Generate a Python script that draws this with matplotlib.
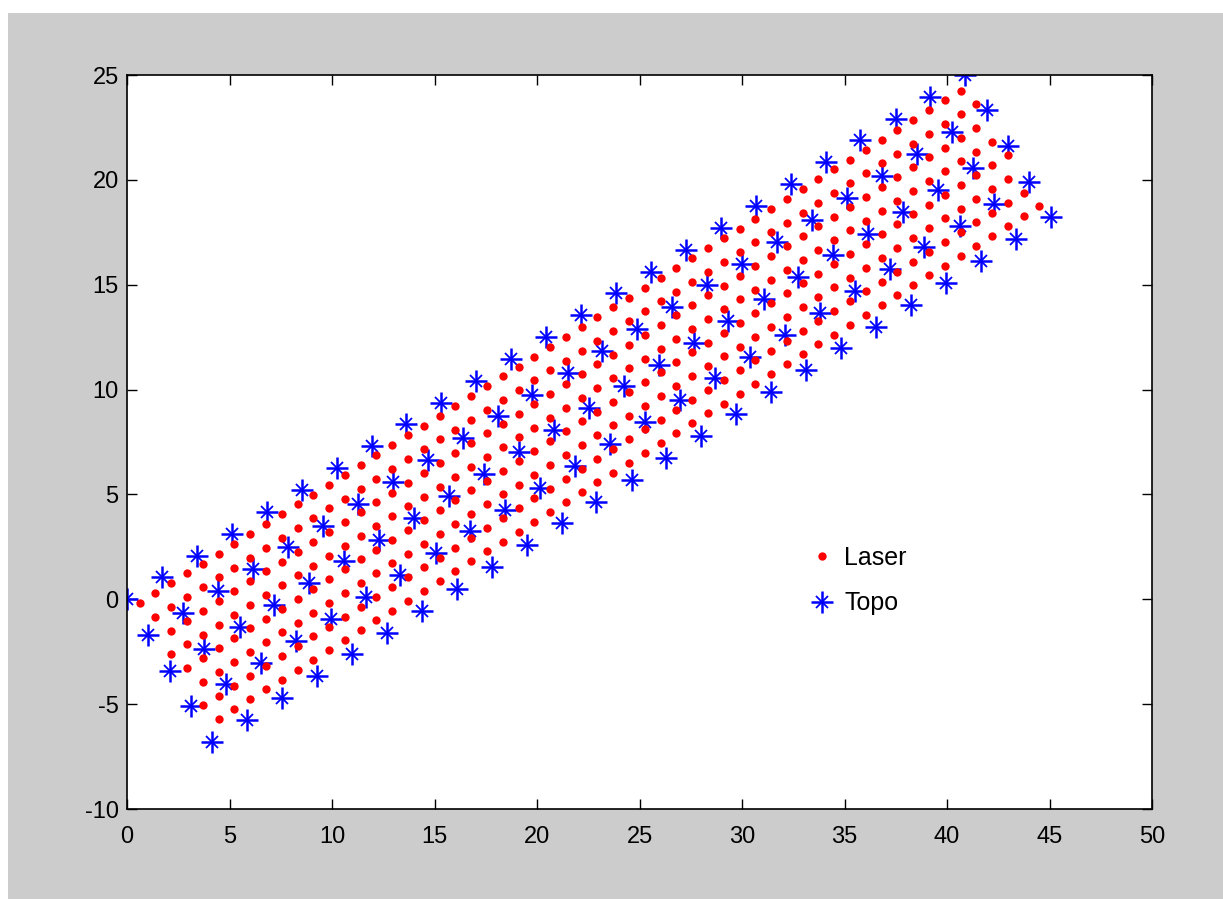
import matplotlib
matplotlib.use("Agg")
import matplotlib.pyplot as plt
from matplotlib.legend_handler import HandlerTuple
from matplotlib.patches import Rectangle

plt.rcParams['font.family'] = ['Liberation Sans', 'DejaVu Sans']
plt.rcParams['axes.unicode_minus'] = False

# ---------------- data ----------------
series_names = ["Laser", "Topo"]

# Topo: 5 rows of 25 points
topo_x_rows = [
    [0.00, 1.70, 3.41, 5.11, 6.82, 8.52, 10.22, 11.93, 13.63, 15.34, 17.04, 18.74, 20.45, 22.15, 23.86, 25.56, 27.26, 28.97, 30.67, 32.38, 34.08, 35.78, 37.49, 39.19, 40.90],
    [1.04, 2.74, 4.45, 6.15, 7.86, 9.56, 11.26, 12.97, 14.67, 16.38, 18.08, 19.78, 21.49, 23.19, 24.90, 26.60, 28.30, 30.01, 31.71, 33.42, 35.12, 36.82, 38.53, 40.23, 41.94],
    [2.08, 3.78, 5.49, 7.19, 8.90, 10.60, 12.30, 14.01, 15.71, 17.42, 19.12, 20.82, 22.53, 24.23, 25.94, 27.64, 29.34, 31.05, 32.75, 34.46, 36.16, 37.86, 39.57, 41.27, 42.98],
    [3.12, 4.82, 6.53, 8.23, 9.94, 11.64, 13.34, 15.05, 16.75, 18.46, 20.16, 21.86, 23.57, 25.27, 26.98, 28.68, 30.38, 32.09, 33.79, 35.50, 37.20, 38.90, 40.61, 42.31, 44.02],
    [4.16, 5.86, 7.57, 9.27, 10.98, 12.68, 14.38, 16.09, 17.79, 19.50, 21.20, 22.90, 24.61, 26.31, 28.02, 29.72, 31.42, 33.13, 34.83, 36.54, 38.24, 39.94, 41.65, 43.35, 45.06],
]
topo_y_rows = [
    [0.00, 1.04, 2.08, 3.13, 4.17, 5.21, 6.25, 7.29, 8.34, 9.38, 10.42, 11.46, 12.50, 13.55, 14.59, 15.63, 16.67, 17.71, 18.76, 19.80, 20.84, 21.88, 22.92, 23.97, 25.01],
    [-1.70, -0.66, 0.38, 1.43, 2.47, 3.51, 4.55, 5.59, 6.64, 7.68, 8.72, 9.76, 10.80, 11.85, 12.89, 13.93, 14.97, 16.01, 17.06, 18.10, 19.14, 20.18, 21.22, 22.27, 23.31],
    [-3.40, -2.36, -1.32, -0.27, 0.77, 1.81, 2.85, 3.89, 4.94, 5.98, 7.02, 8.06, 9.10, 10.15, 11.19, 12.23, 13.27, 14.31, 15.36, 16.40, 17.44, 18.48, 19.52, 20.57, 21.61],
    [-5.10, -4.06, -3.02, -1.97, -0.93, 0.11, 1.15, 2.19, 3.24, 4.28, 5.32, 6.36, 7.40, 8.45, 9.49, 10.53, 11.57, 12.61, 13.66, 14.70, 15.74, 16.78, 17.82, 18.87, 19.91],
    [-6.80, -5.76, -4.72, -3.67, -2.63, -1.59, -0.55, 0.49, 1.54, 2.58, 3.62, 4.66, 5.70, 6.75, 7.79, 8.83, 9.87, 10.91, 11.96, 13.00, 14.04, 15.08, 16.12, 17.17, 18.21],
]

# Laser: 8 rows of points
laser_x_rows = [
    [0.62, 1.39, 2.16, 2.93, 3.70, 4.47, 5.24, 6.01, 6.78, 7.55, 8.32, 9.09, 9.86, 10.63, 11.40, 12.17, 12.94, 13.71, 14.48, 15.25, 16.02, 16.79, 17.56, 18.33, 19.10, 19.87, 20.64, 21.41, 22.18, 22.95, 23.72, 24.49, 25.26, 26.03, 26.80, 27.57, 28.34, 29.11, 29.88, 30.65, 31.42, 32.19, 32.96, 33.73, 34.50, 35.27, 36.04, 36.81, 37.58, 38.35, 39.12, 39.89, 40.66],
    [1.39, 2.16, 2.93, 3.70, 4.47, 5.24, 6.01, 6.78, 7.55, 8.32, 9.09, 9.86, 10.63, 11.40, 12.17, 12.94, 13.71, 14.48, 15.25, 16.02, 16.79, 17.56, 18.33, 19.10, 19.87, 20.64, 21.41, 22.18, 22.95, 23.72, 24.49, 25.26, 26.03, 26.80, 27.57, 28.34, 29.11, 29.88, 30.65, 31.42, 32.19, 32.96, 33.73, 34.50, 35.27, 36.04, 36.81, 37.58, 38.35, 39.12, 39.89, 40.66, 41.43],
    [2.16, 2.93, 3.70, 4.47, 5.24, 6.01, 6.78, 7.55, 8.32, 9.09, 9.86, 10.63, 11.40, 12.17, 12.94, 13.71, 14.48, 15.25, 16.02, 16.79, 17.56, 18.33, 19.10, 19.87, 20.64, 21.41, 22.18, 22.95, 23.72, 24.49, 25.26, 26.03, 26.80, 27.57, 28.34, 29.11, 29.88, 30.65, 31.42, 32.19, 32.96, 33.73, 34.50, 35.27, 36.04, 36.81, 37.58, 38.35, 39.12, 39.89, 40.66, 41.43],
    [2.16, 2.93, 3.70, 4.47, 5.24, 6.01, 6.78, 7.55, 8.32, 9.09, 9.86, 10.63, 11.40, 12.17, 12.94, 13.71, 14.48, 15.25, 16.02, 16.79, 17.56, 18.33, 19.10, 19.87, 20.64, 21.41, 22.18, 22.95, 23.72, 24.49, 25.26, 26.03, 26.80, 27.57, 28.34, 29.11, 29.88, 30.65, 31.42, 32.19, 32.96, 33.73, 34.50, 35.27, 36.04, 36.81, 37.58, 38.35, 39.12, 39.89, 40.66, 41.43, 42.20],
    [2.93, 3.70, 4.47, 5.24, 6.01, 6.78, 7.55, 8.32, 9.09, 9.86, 10.63, 11.40, 12.17, 12.94, 13.71, 14.48, 15.25, 16.02, 16.79, 17.56, 18.33, 19.10, 19.87, 20.64, 21.41, 22.18, 22.95, 23.72, 24.49, 25.26, 26.03, 26.80, 27.57, 28.34, 29.11, 29.88, 30.65, 31.42, 32.19, 32.96, 33.73, 34.50, 35.27, 36.04, 36.81, 37.58, 38.35, 39.12, 39.89, 40.66, 41.43, 42.20, 42.97],
    [3.70, 4.47, 5.24, 6.01, 6.78, 7.55, 8.32, 9.09, 9.86, 10.63, 11.40, 12.17, 12.94, 13.71, 14.48, 15.25, 16.02, 16.79, 17.56, 18.33, 19.10, 19.87, 20.64, 21.41, 22.18, 22.95, 23.72, 24.49, 25.26, 26.03, 26.80, 27.57, 28.34, 29.11, 29.88, 30.65, 31.42, 32.19, 32.96, 33.73, 34.50, 35.27, 36.04, 36.81, 37.58, 38.35, 39.12, 39.89, 40.66, 41.43, 42.20, 42.97],
    [3.70, 4.47, 5.24, 6.01, 6.78, 7.55, 8.32, 9.09, 9.86, 10.63, 11.40, 12.17, 12.94, 13.71, 14.48, 15.25, 16.02, 16.79, 17.56, 18.33, 19.10, 19.87, 20.64, 21.41, 22.18, 22.95, 23.72, 24.49, 25.26, 26.03, 26.80, 27.57, 28.34, 29.11, 29.88, 30.65, 31.42, 32.19, 32.96, 33.73, 34.50, 35.27, 36.04, 36.81, 37.58, 38.35, 39.12, 39.89, 40.66, 41.43, 42.20, 42.97, 43.74],
    [4.47, 5.24, 6.01, 6.78, 7.55, 8.32, 9.09, 9.86, 10.63, 11.40, 12.17, 12.94, 13.71, 14.48, 15.25, 16.02, 16.79, 17.56, 18.33, 19.10, 19.87, 20.64, 21.41, 22.18, 22.95, 23.72, 24.49, 25.26, 26.03, 26.80, 27.57, 28.34, 29.11, 29.88, 30.65, 31.42, 32.19, 32.96, 33.73, 34.50, 35.27, 36.04, 36.81, 37.58, 38.35, 39.12, 39.89, 40.66, 41.43, 42.20, 42.97, 43.74, 44.51],
]
laser_y_rows = [
    [-0.18, 0.29, 0.76, 1.23, 1.70, 2.17, 2.64, 3.11, 3.58, 4.05, 4.52, 4.99, 5.46, 5.93, 6.40, 6.87, 7.34, 7.81, 8.28, 8.75, 9.22, 9.69, 10.16, 10.63, 11.10, 11.57, 12.04, 12.51, 12.98, 13.45, 13.92, 14.39, 14.86, 15.33, 15.80, 16.27, 16.74, 17.21, 17.68, 18.15, 18.62, 19.09, 19.56, 20.03, 20.50, 20.97, 21.44, 21.91, 22.38, 22.85, 23.32, 23.79, 24.26],
    [-0.84, -0.37, 0.10, 0.57, 1.04, 1.51, 1.98, 2.45, 2.92, 3.39, 3.86, 4.33, 4.80, 5.27, 5.74, 6.21, 6.68, 7.15, 7.62, 8.09, 8.56, 9.03, 9.50, 9.97, 10.44, 10.91, 11.38, 11.85, 12.32, 12.79, 13.26, 13.73, 14.20, 14.67, 15.14, 15.61, 16.08, 16.55, 17.02, 17.49, 17.96, 18.43, 18.90, 19.37, 19.84, 20.31, 20.78, 21.25, 21.72, 22.19, 22.66, 23.13, 23.60],
    [-1.49, -1.02, -0.55, -0.08, 0.39, 0.86, 1.33, 1.80, 2.27, 2.74, 3.21, 3.68, 4.15, 4.62, 5.09, 5.56, 6.03, 6.50, 6.97, 7.44, 7.91, 8.38, 8.85, 9.32, 9.79, 10.26, 10.73, 11.20, 11.67, 12.14, 12.61, 13.08, 13.55, 14.02, 14.49, 14.96, 15.43, 15.90, 16.37, 16.84, 17.31, 17.78, 18.25, 18.72, 19.19, 19.66, 20.13, 20.60, 21.07, 21.54, 22.01, 22.48],
    [-2.62, -2.15, -1.68, -1.21, -0.74, -0.27, 0.20, 0.67, 1.14, 1.61, 2.08, 2.55, 3.02, 3.49, 3.96, 4.43, 4.90, 5.37, 5.84, 6.31, 6.78, 7.25, 7.72, 8.19, 8.66, 9.13, 9.60, 10.07, 10.54, 11.01, 11.48, 11.95, 12.42, 12.89, 13.36, 13.83, 14.30, 14.77, 15.24, 15.71, 16.18, 16.65, 17.12, 17.59, 18.06, 18.53, 19.00, 19.47, 19.94, 20.41, 20.88, 21.35, 21.82],
    [-3.27, -2.80, -2.33, -1.86, -1.39, -0.92, -0.45, 0.02, 0.49, 0.96, 1.43, 1.90, 2.37, 2.84, 3.31, 3.78, 4.25, 4.72, 5.19, 5.66, 6.13, 6.60, 7.07, 7.54, 8.01, 8.48, 8.95, 9.42, 9.89, 10.36, 10.83, 11.30, 11.77, 12.24, 12.71, 13.18, 13.65, 14.12, 14.59, 15.06, 15.53, 16.00, 16.47, 16.94, 17.41, 17.88, 18.35, 18.82, 19.29, 19.76, 20.23, 20.70, 21.17],
    [-3.93, -3.46, -2.99, -2.52, -2.05, -1.58, -1.11, -0.64, -0.17, 0.30, 0.77, 1.24, 1.71, 2.18, 2.65, 3.12, 3.59, 4.06, 4.53, 5.00, 5.47, 5.94, 6.41, 6.88, 7.35, 7.82, 8.29, 8.76, 9.23, 9.70, 10.17, 10.64, 11.11, 11.58, 12.05, 12.52, 12.99, 13.46, 13.93, 14.40, 14.87, 15.34, 15.81, 16.28, 16.75, 17.22, 17.69, 18.16, 18.63, 19.10, 19.57, 20.04],
    [-5.06, -4.59, -4.12, -3.65, -3.18, -2.71, -2.24, -1.77, -1.30, -0.83, -0.36, 0.11, 0.58, 1.05, 1.52, 1.99, 2.46, 2.93, 3.40, 3.87, 4.34, 4.81, 5.28, 5.75, 6.22, 6.69, 7.16, 7.63, 8.10, 8.57, 9.04, 9.51, 9.98, 10.45, 10.92, 11.39, 11.86, 12.33, 12.80, 13.27, 13.74, 14.21, 14.68, 15.15, 15.62, 16.09, 16.56, 17.03, 17.50, 17.97, 18.44, 18.91, 19.38],
    [-5.71, -5.24, -4.77, -4.30, -3.83, -3.36, -2.89, -2.42, -1.95, -1.48, -1.01, -0.54, -0.07, 0.40, 0.87, 1.34, 1.81, 2.28, 2.75, 3.22, 3.69, 4.16, 4.63, 5.10, 5.57, 6.04, 6.51, 6.98, 7.45, 7.92, 8.39, 8.86, 9.33, 9.80, 10.27, 10.74, 11.21, 11.68, 12.15, 12.62, 13.09, 13.56, 14.03, 14.50, 14.97, 15.44, 15.91, 16.38, 16.85, 17.32, 17.79, 18.26, 18.73],
]

x_ticks = [0, 5, 10, 15, 20, 25, 30, 35, 40, 45, 50]
y_ticks = [-10, -5, 0, 5, 10, 15, 20, 25]

# ---------------- figure ----------------
W, H = 1223, 899
fig = plt.figure(figsize=(W / 100, H / 100), dpi=100, facecolor='white')
fig.patches.append(Rectangle((8 / W, 0), 1 - 8 / W, 1 - 13 / H, transform=fig.transFigure,
                             facecolor='#cccccc', edgecolor='none', zorder=-10))

ax = fig.add_axes([127 / W, (H - 809) / H, (1152 - 127) / W, (809 - 75) / H])
ax.set_facecolor('white')

laser_x = [v for row in laser_x_rows for v in row]
laser_y = [v for row in laser_y_rows for v in row]
topo_x = [v for row in topo_x_rows for v in row]
topo_y = [v for row in topo_y_rows for v in row]

t_plus, = ax.plot(topo_x, topo_y, linestyle='none', marker='+', color='blue',
                  markersize=16, markeredgewidth=1.8, zorder=2)
t_x, = ax.plot(topo_x, topo_y, linestyle='none', marker='x', color='blue',
               markersize=9, markeredgewidth=1.3, zorder=2)
l_pts, = ax.plot(laser_x, laser_y, linestyle='none', marker='o', color='red',
                 markersize=6, markeredgewidth=0, zorder=3)

ax.set_xlim(0, 50)
ax.set_ylim(-10, 25)
ax.set_xticks(x_ticks)
ax.set_yticks(y_ticks)
ax.tick_params(direction='in', length=7, width=1.0, top=True, right=True,
               labelsize=17, colors='black')
ax.tick_params(axis='x', pad=12)
ax.tick_params(axis='y', pad=6)
for sp in ax.spines.values():
    sp.set_linewidth(1.2)
    sp.set_color('black')

leg = ax.legend([l_pts, (t_plus, t_x)], series_names,
                handler_map={tuple: HandlerTuple(ndivide=1, pad=0)},
                loc='center left', bbox_to_anchor=(0.646, 0.311),
                frameon=False, fontsize=18, numpoints=1,
                handlelength=0.8, handletextpad=0.5, labelspacing=0.85)

fig.savefig('out.png', dpi=100, facecolor=fig.get_facecolor())
